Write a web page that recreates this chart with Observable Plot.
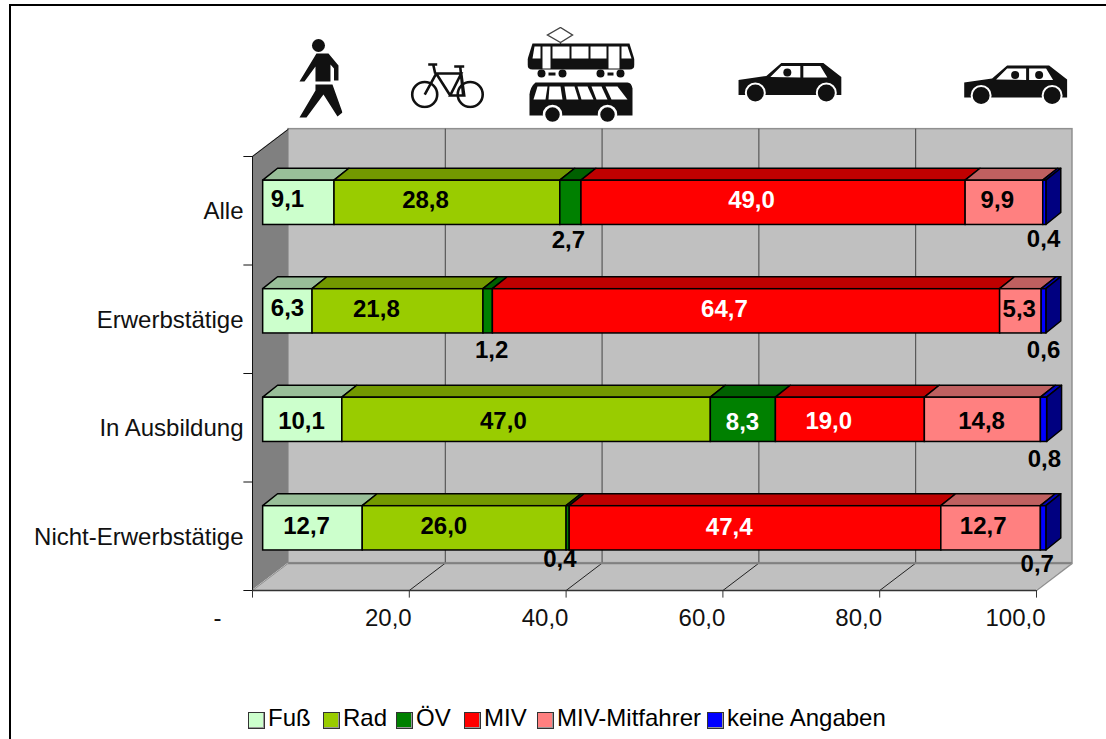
<!DOCTYPE html>
<html>
<head>
<meta charset="utf-8">
<script src="https://cdn.jsdelivr.net/npm/d3@7"></script>
<script src="https://cdn.jsdelivr.net/npm/@observablehq/plot@0.6"></script>
<style>
html,body{margin:0;padding:0;background:#fff;overflow:hidden}
body{width:1106px;height:739px;position:relative;font-family:"Liberation Sans",Arial,sans-serif}
#frame{position:absolute;left:9px;top:4px;width:1097px;height:735px;border-left:2px solid #000;border-top:2px solid #000;box-sizing:border-box;pointer-events:none}
#chart{position:absolute;left:0;top:0}
#legend{position:absolute;left:0;top:700px;width:1106px;height:39px;font-size:24px;color:#000}
#legend .sw{position:absolute;top:12px;width:15px;height:15px;border:1px solid #333;box-shadow:-1px -1px 0 #999 inset;box-sizing:content-box}
#legend .tx{position:absolute;top:4px;line-height:28px;white-space:nowrap}
</style>
</head>
<body>
<div id="chart"></div>
<div id="frame"></div>
<div id="legend"></div>
<script>
// ---- chart values ----
const categories = ["Alle", "Erwerbstätige", "In Ausbildung", "Nicht-Erwerbstätige"];
const modes = ["Fuß", "Rad", "ÖV", "MIV", "MIV-Mitfahrer", "keine Angaben"];
const modeColors = ["#ccffcc", "#99cc00", "#008000", "#ff0000", "#ff8080", "#0000ff"];
const shareAlle = [9.1, 28.8, 2.7, 49.0, 9.9, 0.4];
const shareErwerb = [6.3, 21.8, 1.2, 64.7, 5.3, 0.6];
const shareAusbildung = [10.1, 47.0, 8.3, 19.0, 14.8, 0.8];
const shareNicht = [12.7, 26.0, 0.4, 47.4, 12.7, 0.7];
const xTicks = [0, 20, 40, 60, 80, 100];
const yTicks = [0, 1, 2, 3, 4];

// ---- label placement (hand-moved in the original), in axis units ----
const labelAtX = [
  [4.46, 22.07, 40.3, 63.65, 95.0, 100.9],
  [4.46, 15.8, 30.5, 60.2, 97.8, 100.9],
  [6.25, 32.0, 62.5, 73.5, 93.0, 101.0],
  [6.9, 24.4, 39.2, 60.8, 93.2, 100.1]
];
const labelAtY = [
  [0.39, 0.40, 0.77, 0.40, 0.40, 0.76],
  [1.40, 1.41, 1.79, 1.41, 1.41, 1.79],
  [2.44, 2.44, 2.45, 2.44, 2.44, 2.79],
  [3.41, 3.41, 3.71, 3.42, 3.41, 3.76]
];
const whiteLabels = ["0|MIV", "1|MIV", "2|ÖV", "2|MIV", "3|MIV"];

// ---- pseudo-3D geometry, in axis units ----
const depthX = 4.59, depthY = 0.252;      // chart box
const barX0 = 1.36, barTop = 0.223, barBottom = 0.631; // bar inside box
const barDepthX = 1.9, barDepthY = 0.11;  // bar depth

const rows = [shareAlle, shareErwerb, shareAusbildung, shareNicht];
const segments = rows.flatMap((vals, r) => {
  let sum = 0;
  return vals.map((v, s) => {
    const seg = {id: r + "|" + modes[s], row: r, mode: modes[s], color: modeColors[s], value: v,
      x1: barX0 + sum, x2: barX0 + sum + v, y1: r + barTop, y2: r + barBottom,
      lx: labelAtX[r][s], ly: labelAtY[r][s], last: s === vals.length - 1};
    sum += v;
    return seg;
  });
});
const shade = (c, k) => { const q = d3.rgb(c); return d3.rgb(q.r * k, q.g * k, q.b * k).formatHex(); };
const topFaces = segments.flatMap(d => [
  {id: d.id, color: shade(d.color, 0.75), y: d.y1, a: d.x1, b: d.x2},
  {id: d.id, color: shade(d.color, 0.75), y: d.y1 - barDepthY, a: d.x1 + barDepthX, b: d.x2 + barDepthX}
]);
const endFaces = segments.filter(d => d.last).flatMap(d => [
  {id: d.id, color: shade(d.color, 0.5), x: d.x2, a: d.y1, b: d.y2},
  {id: d.id, color: shade(d.color, 0.5), x: d.x2 + barDepthX, a: d.y1 - barDepthY, b: d.y2 - barDepthY}
]);
const comma = v => v.toFixed(1).replace(".", ",");

// ---- pictograms above the chart ----
const svgUri = (w, h, body) => "data:image/svg+xml;utf8," + encodeURIComponent(
  `<svg xmlns="http://www.w3.org/2000/svg" width="${w * 2}" height="${h * 2}" viewBox="0 0 ${w} ${h}">${body}</svg>`);
const walker = svgUri(44, 80, `<g fill="#111"><circle cx="20" cy="7" r="6.5"/>
  <path d="M18 15h12l10 12v15h-4.500V30l-3.500-4v17H17V28L6 43H1z"/>
  <path d="M17 46h17l10 28-5 4L25 56 8 79H1L17 52z"/></g>`);
const bike = svgUri(75, 46, `<g fill="none" stroke="#111" stroke-width="2.600"><circle cx="14.500" cy="32" r="12.500"/><circle cx="60" cy="32" r="12.500"/>
  <path d="M14.500 32 26 11h25L40 33h14L51 11M26 11l14 22M25 11l-2-9M18 2h9M53 33l-3-29M44 4h10"/></g>`);
const car = (dots, split) => `<path fill="#111" d="M0 18 28 14 43 1H85L103 15V33H0z"/>
  <path fill="#fff" d="M32 15 43 4H${split - 2}V15.500zM${split + 1} 4H82L89 15.500H${split + 1}z"/>
  ${dots.map(x => `<circle cx="${x}" cy="10.500" r="4" fill="#111"/>`).join("")}
  <g fill="#111" stroke="#fff" stroke-width="2"><circle cx="17" cy="31" r="9.500"/><circle cx="88" cy="31" r="9.500"/></g>`;
const carOne = svgUri(104, 41, car([49], 64));
const carTwo = svgUri(104, 41, car([51, 75], 64));
const transit = svgUri(107, 97, `
  <path d="M33 1 45 8.500 33 16 20 8.500z" fill="#fff" stroke="#444" stroke-width="1.400"/>
  <path d="M33 16v3" stroke="#444" stroke-width="1.200"/>
  <path fill="#111" d="M5 17H102L107 33V38Q107 43 102 43H5Q0 43 0 38V33z"/>
  <g fill="#fff"><path d="M5 32 7 20H13V32z"/><rect x="15" y="20" width="8" height="22"/><rect x="25" y="20" width="17" height="12"/><rect x="44" y="20" width="17" height="12"/><rect x="63" y="20" width="16" height="12"/><rect x="81" y="20" width="11" height="22"/><path d="M94 20H100L104 32H94z"/></g>
  <g fill="#111"><circle cx="14" cy="47" r="4"/><circle cx="35" cy="47" r="4"/><circle cx="73" cy="47" r="4"/><circle cx="93" cy="47" r="4"/><rect x="21" y="46" width="7" height="3"/><rect x="80" y="46" width="6" height="3"/></g>
  <path fill="#111" d="M8 56H100Q104 56 105 62V89H2V68Q3 60 8 56z"/>
  <g fill="#fff"><path d="M6 73 10 60H20L18 73z"/><path d="M22 60H33L35 73H21z"/><path d="M37 60H47L51 73H39z"/><path d="M50 60H60L66 73H54z"/><path d="M64 60H74L80 73H69z"/><path d="M78 60H90L100 73H84z"/></g>
  <g fill="#111" stroke="#fff" stroke-width="2.500"><circle cx="25" cy="88" r="8.500"/><circle cx="80" cy="88" r="8.500"/></g>`);
// icon centre on the axes, in axis units, and its drawn size
const icons = [
  {src: walker, x: 8.67, y: -0.719, w: 44, h: 80},
  {src: bike, x: 24.9, y: -0.654, w: 75, h: 46},
  {src: transit, x: 41.9, y: -0.751, w: 107, h: 97},
  {src: carOne, x: 68.6, y: -0.682, w: 104, h: 41},
  {src: carTwo, x: 97.4, y: -0.659, w: 104, h: 41}
];

const backTop = -depthY, backBottom = 4 - depthY;
const fs = 24;

const plot = Plot.plot({
  width: 1106, height: 700, margin: 0,
  style: {fontFamily: '"Liberation Sans", Arial, sans-serif', background: "transparent", overflow: "visible"},
  x: {type: "linear", domain: [0, 100], range: [252, 1036], axis: null},
  y: {type: "linear", domain: [0, 4], range: [156, 590], axis: null},
  marks: [
    // box walls
    Plot.rect([0], {x1: depthX, x2: 100 + depthX, y1: backTop, y2: backBottom, fill: "#c0c0c0", stroke: "#909090", strokeWidth: 1.5}),
    Plot.areaY([{x: 0, a: 0, b: 4}, {x: depthX, a: backTop, b: backBottom}], {x: "x", y1: "a", y2: "b", fill: "#808080"}),
    Plot.areaX([{y: 4, a: 0, b: 100}, {y: backBottom, a: depthX, b: 100 + depthX}], {y: "y", x1: "a", x2: "b", fill: "#c0c0c0"}),
    // gridlines
    Plot.ruleX(xTicks.slice(1, -1), {x: d => d + depthX, y1: backTop, y2: backBottom, stroke: "#444", strokeWidth: 1}),
    Plot.link(xTicks.slice(1, -1), {x1: d => d, y1: 4, x2: d => d + depthX, y2: backBottom, stroke: "#222", strokeWidth: 1}),
    Plot.ruleY([backBottom], {x1: depthX, x2: 100 + depthX, stroke: "#808080", strokeWidth: 2}),
    Plot.link([0], {x1: 100, y1: 4, x2: 100 + depthX, y2: backBottom, stroke: "#909090", strokeWidth: 1.5}),
    Plot.link([0], {x1: 0, y1: 4, x2: depthX, y2: backBottom, stroke: "#909090", strokeWidth: 1}),
    Plot.link([0], {x1: 0, y1: 0, x2: depthX, y2: backTop, stroke: "#111", strokeWidth: 1}),
    // axes
    Plot.ruleX([0], {y1: 0, y2: 4, stroke: "#111", strokeWidth: 1}),
    Plot.ruleY([4], {x1: 0, x2: 100, stroke: "#333", strokeWidth: 1.5}),
    Plot.ruleY(yTicks, {y: d => d, x1: -1.1, x2: 0, stroke: "#111", strokeWidth: 1}),
    Plot.ruleX(xTicks, {x: d => d, y1: 4, y2: 4.07, stroke: "#333", strokeWidth: 1}),
    Plot.text(categories, {x: 0, y: (d, i) => i + 0.5, text: d => d, textAnchor: "end", dx: -9, dy: 1, fontSize: fs, fill: "#111"}),
    Plot.text(xTicks.slice(1), {x: d => d, y: 4.25, text: comma, dx: -21, dy: 1, fontSize: fs, fill: "#111"}),
    Plot.text([0], {x: d => d, y: 4.25, text: () => "-", dx: -35, dy: 1, fontSize: fs, fill: "#111"}),
    // bars
    Plot.areaX(topFaces, {y: "y", x1: "a", x2: "b", z: "id", fill: {value: "color", scale: null}, stroke: "#000", strokeWidth: 1.5}),
    Plot.areaY(endFaces, {x: "x", y1: "a", y2: "b", z: "id", fill: {value: "color", scale: null}, stroke: "#000", strokeWidth: 1.5}),
    Plot.rect(segments, {x1: "x1", x2: "x2", y1: "y1", y2: "y2", fill: {value: "color", scale: null}, stroke: "#000", strokeWidth: 1.5}),
    // value labels
    Plot.text(segments, {x: "lx", y: "ly", text: d => comma(d.value), fontSize: fs, fontWeight: "bold",
      fill: {value: d => whiteLabels.includes(d.id) ? "#fff" : "#000", scale: null}}),
    // pictograms
    Plot.image(icons, {x: "x", y: "y", width: "w", height: "h", src: "src"})
  ]
});
document.getElementById("chart").appendChild(plot);

// ---- legend below the plot ----
const legendLefts = [248, 323, 396, 464, 537, 707];
const legend = document.getElementById("legend");
modes.forEach((m, i) => {
  const sw = document.createElement("div");
  sw.className = "sw";
  sw.style.left = legendLefts[i] + "px";
  sw.style.background = modeColors[i];
  legend.appendChild(sw);
  const tx = document.createElement("div");
  tx.className = "tx";
  tx.style.left = (legendLefts[i] + 20) + "px";
  tx.textContent = m;
  legend.appendChild(tx);
});
</script>
</body>
</html>
